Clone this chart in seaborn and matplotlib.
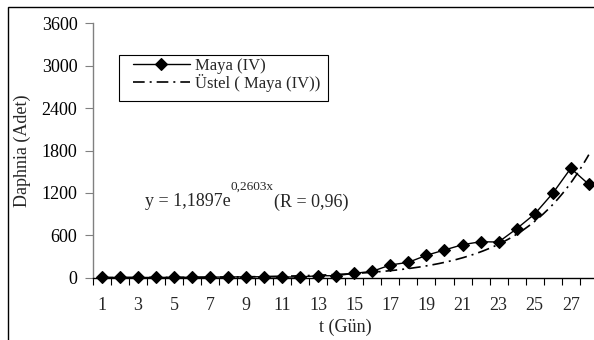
import numpy as np
import pandas as pd
import matplotlib
matplotlib.use("Agg")
import matplotlib.pyplot as plt
import seaborn as sns
from matplotlib.patches import Rectangle

# ---- data ----
days = list(range(1, 29))
maya = [3, 3, 3, 4, 5, 6, 8, 10, 12, 14, 10, 10, 28, 28, 62, 90,
        180, 218, 317, 392, 467, 509, 505, 693, 901, 1194, 1548, 1321]
x_tick_values = list(range(1, 28, 2))
x_tick_labels = [str(v) for v in x_tick_values]
y_ticks = [0, 600, 1200, 1800, 2400, 3000, 3600]
trend_a = 1.1897   # Excel exponential trendline coefficients shown on chart
trend_b = 0.2603
trend_r = "0,96"
series_label = "Maya (IV)"
trend_label = "Üstel ( Maya (IV))"
x_label = "t (Gün)"
y_label = "Daphnia (Adet)"

# ---- figure ----
W, H = 594, 340
sns.set_style("ticks")
plt.rcParams["font.family"] = ["Liberation Serif", "DejaVu Serif"]
fig = plt.figure(figsize=(W / 100, H / 100), dpi=100)


def fx(px):
    return px / W


def fy(py):
    return 1 - py / H


x0, y0, ytop, step = 92.7, 277.7, 23.3, 18.04
ax = fig.add_axes([fx(x0), fy(y0), 28 * step / W, (y0 - ytop) / H])

df = pd.DataFrame({"t": days, "n": maya})
sns.lineplot(data=df, x="t", y="n", ax=ax, color="black", lw=1.0,
             marker="D", markersize=6.2, markeredgecolor="black",
             markerfacecolor="black", markeredgewidth=0.8,
             label=series_label, clip_on=False, zorder=3)

xt = np.linspace(1, 28, 300)
trend_df = pd.DataFrame({"t": xt, "n": trend_a * np.exp(trend_b * xt)})
sns.lineplot(data=trend_df, x="t", y="n", ax=ax, color="black", lw=1.2,
             label=trend_label, zorder=2)
ax.lines[1].set_dashes([7, 3, 1.2, 3])

ax.set_xlim(0.5, 28.5)
ax.set_ylim(0, 3600)

# x axis: ticks between categories, labels at odd categories
ax.set_xticks(np.arange(0.5, 29, 1))
ax.tick_params(axis="x", which="major", labelbottom=False, length=5,
               width=0.8, direction="out", color="black")
ax.set_xticks(x_tick_values, minor=True)
ax.set_xticklabels(x_tick_labels, minor=True)
ax.tick_params(axis="x", which="minor", length=0, pad=14, labelsize=13)

ax.set_yticks(y_ticks)
ax.set_yticklabels([str(v) for v in y_ticks])
ax.tick_params(axis="y", length=6, width=0.8, direction="out",
               color="#808080", pad=5.0, labelsize=13, labelcolor="black")

for s in ("top", "right"):
    ax.spines[s].set_visible(False)
ax.spines["left"].set_color("#808080")
ax.spines["left"].set_linewidth(1.0)
ax.spines["bottom"].set_color("black")
ax.spines["bottom"].set_linewidth(1.0)

ax.set_xlabel(x_label, fontsize=13, va="center")
ax.xaxis.set_label_coords(0.5, (y0 - 327) / (y0 - ytop))
ax.set_ylabel(y_label, fontsize=13, va="center")
ax.yaxis.set_label_coords((22 - x0) / (28 * step), 0.5)

# legend
leg = ax.legend(loc="center left", bbox_to_anchor=(fx(133), fy(75)),
                bbox_transform=fig.transFigure, frameon=False, borderpad=0,
                borderaxespad=0, labelspacing=0.0, handlelength=3.4,
                handletextpad=0.3, fontsize=12)
fig.add_artist(Rectangle((fx(119), fy(101)), fx(328) - fx(119),
                         fy(55) - fy(101), transform=fig.transFigure,
                         fill=False, ec="black", lw=0.8))

# outer chart border (cropped at right/bottom)
fig.add_artist(Rectangle((fx(7.5), -0.5), 2, fy(7) + 0.5,
                         transform=fig.transFigure, fill=False,
                         ec="black", lw=1.0))

# trendline equation
renderer = fig.canvas.get_renderer()
a_txt = f"{trend_a}".replace(".", ",")
b_txt = f"{trend_b}".replace(".", ",")
t1 = fig.text(fx(145), fy(206.5), f"y = {a_txt}e", fontsize=13, va="baseline")
bb1 = t1.get_window_extent(renderer)
t2 = fig.text(bb1.x1 / W, fy(190), f"{b_txt}x", fontsize=9.5,
              va="baseline")
bb2 = t2.get_window_extent(renderer)
t3 = fig.text(bb2.x1 / W, fy(206.5), f"(R = {trend_r})", fontsize=13,
              va="baseline")

fig.savefig("out.png", dpi=100)
